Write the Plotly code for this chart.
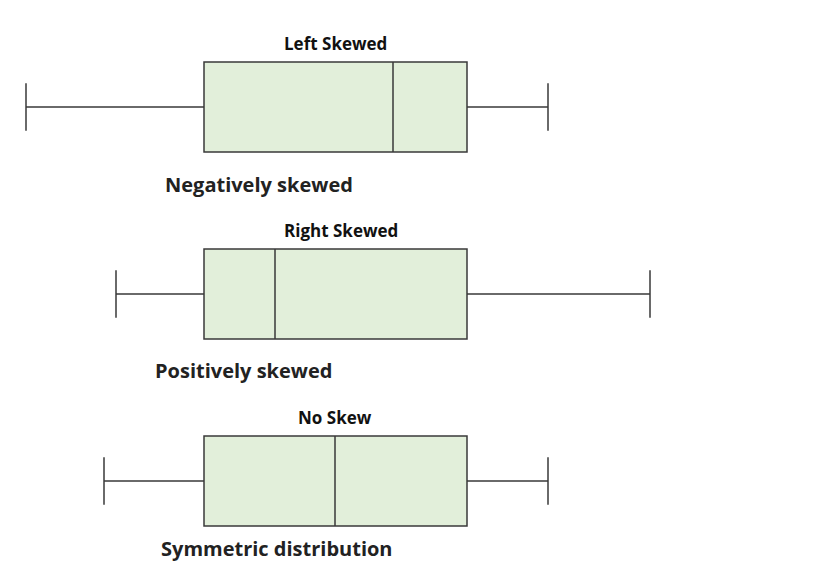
import plotly.graph_objects as go

# Data (value axis in the reference's horizontal scale)
titles = ["Left Skewed", "Right Skewed", "No Skew"]
labels = ["Negatively skewed", "Positively skewed", "Symmetric distribution"]
lower_fence = [26, 116, 104]
q1 = [204, 204, 204]
median = [393, 275, 335]
q3 = [467, 467, 467]
upper_fence = [548, 650, 548]
positions = [107, 294, 481]

FILL = "#E2EFDA"
LINE = "#3a3a3a"
FONT = "Open Sans"

W, H, OFF = 816, 556, 8

fig = go.Figure()
for i in range(3):
    fig.add_trace(go.Box(
        orientation="h",
        y=[positions[i]],
        lowerfence=[lower_fence[i]],
        q1=[q1[i]],
        median=[median[i]],
        q3=[q3[i]],
        upperfence=[upper_fence[i]],
        width=90,
        whiskerwidth=0.53,
        fillcolor=FILL,
        line=dict(color=LINE, width=1.5),
        boxpoints=False,
        hoverinfo="skip",
        showlegend=False,
    ))

title_x = [335, 341, 335]
title_dy = [-64, -64, -64]
label_x = [259, 243, 277]
label_dy = [77, 76, 67]
for i in range(3):
    fig.add_annotation(x=title_x[i], y=positions[i] + title_dy[i], text=f"<b>{titles[i]}</b>",
                       showarrow=False, xanchor="center", yanchor="middle",
                       font=dict(family=FONT, size=17, color="#111111"))
    fig.add_annotation(x=label_x[i], y=positions[i] + label_dy[i], text=f"<b>{labels[i]}</b>",
                       showarrow=False, xanchor="center", yanchor="middle", borderpad=0,
                       font=dict(family=FONT, size=20, color="#222222"))

fig.update_layout(
    width=W, height=H,
    margin=dict(l=0, r=0, t=0, b=0),
    paper_bgcolor="white", plot_bgcolor="white",
    xaxis=dict(range=[OFF, OFF + W], visible=False, fixedrange=True),
    yaxis=dict(range=[OFF + H, OFF], visible=False, fixedrange=True),
    showlegend=False,
)

fig.write_html("out.html")
